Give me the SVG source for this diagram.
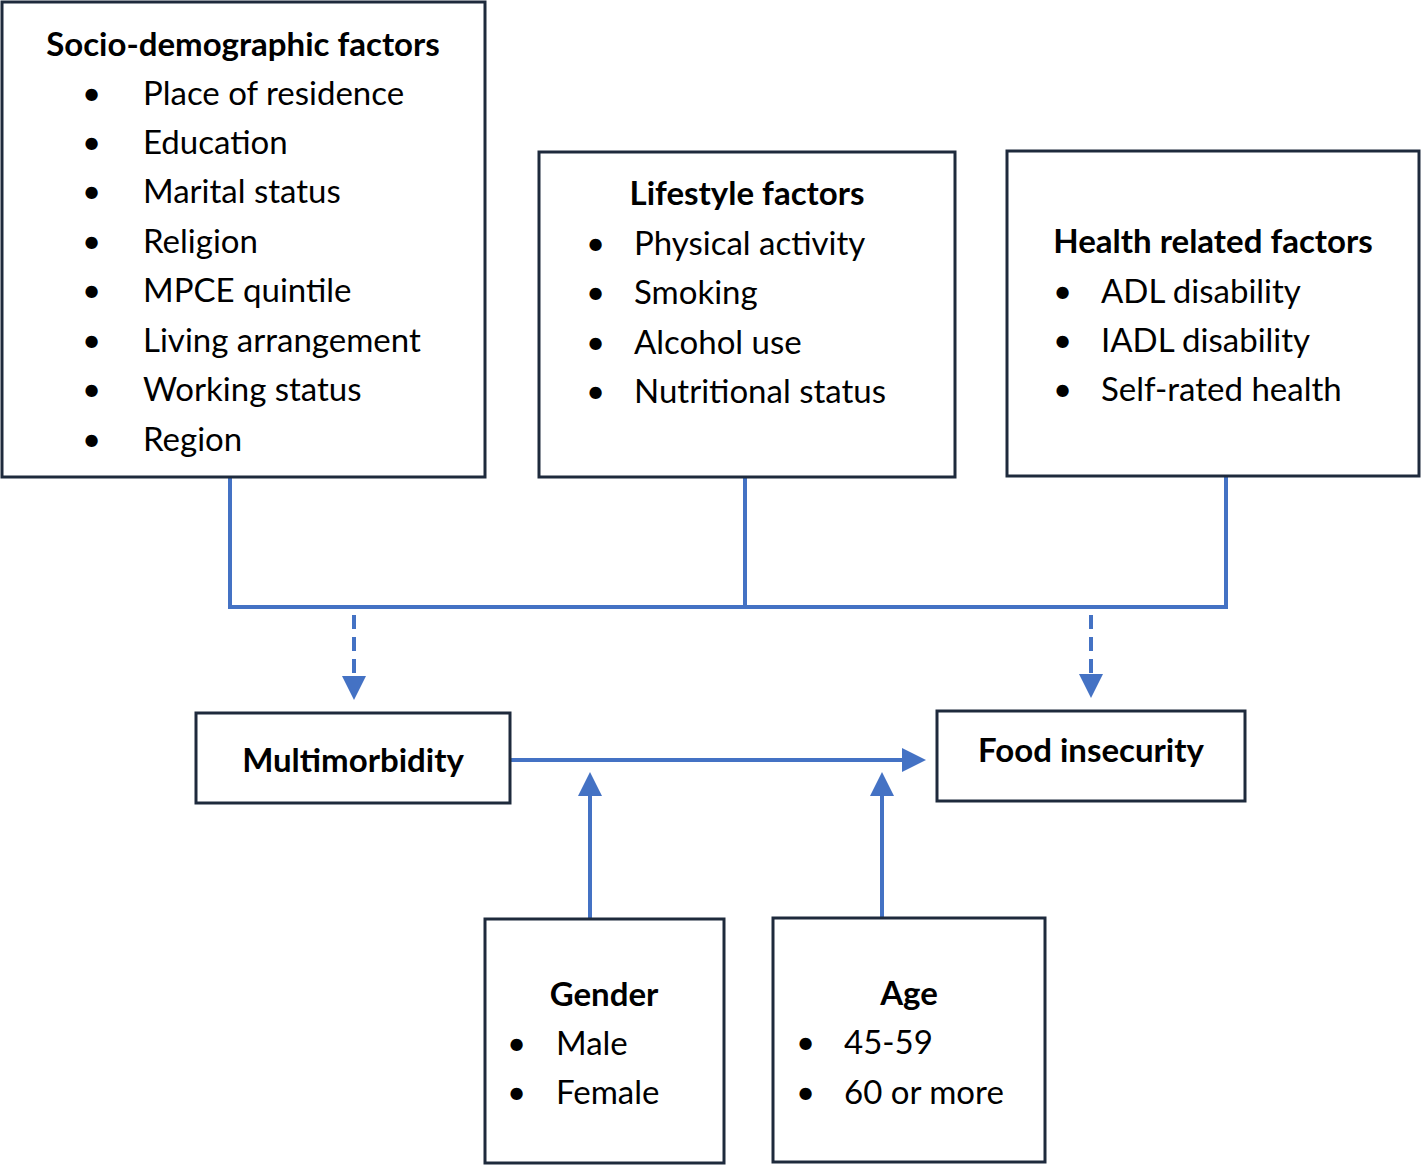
<svg xmlns="http://www.w3.org/2000/svg" width="1421" height="1165" viewBox="0 0 1421 1165">
<style>
.box{fill:#fff;stroke:#1e2a3c;stroke-width:3}
text{font-family:Lato,"Open Sans",sans-serif;font-size:33px;fill:#000}
.t{font-weight:bold;text-anchor:middle}
.c{stroke:#4472C4;stroke-width:4;fill:none}
.d{stroke-dasharray:14 8}
</style>
<defs><marker id="a" markerWidth="6" markerHeight="6" refX="5" refY="3" orient="auto" markerUnits="strokeWidth"><path d="M0,0L6,3L0,6z" fill="#4472C4"/></marker></defs>
<rect width="1421" height="1165" fill="#fff"/>
<g id="connectors">
<path class="c" d="M230,477V607M745,477V607M1226,477V607M228,607H1228"/>
<path class="c d" d="M354,615V696" marker-end="url(#a)"/>
<path class="c d" d="M1091,615V694" marker-end="url(#a)"/>
<path class="c" d="M510,760H922" marker-end="url(#a)"/>
<path class="c" d="M590,919V776" marker-end="url(#a)"/>
<path class="c" d="M882,918V776" marker-end="url(#a)"/>
</g>
<g id="socio"><rect class="box" x="2" y="2" width="483" height="475"/>
<text class="t" x="243" y="56">Socio-demographic factors</text>
<g><text x="82" y="105">•</text><text x="143" y="105">Place of residence</text>
<text x="82" y="154">•</text><text x="143" y="154">Education</text>
<text x="82" y="203">•</text><text x="143" y="203">Marital status</text>
<text x="82" y="253">•</text><text x="143" y="253">Religion</text>
<text x="82" y="302">•</text><text x="143" y="302">MPCE quintile</text>
<text x="82" y="352">•</text><text x="143" y="352">Living arrangement</text>
<text x="82" y="401">•</text><text x="143" y="401">Working status</text>
<text x="82" y="451">•</text><text x="143" y="451">Region</text></g></g>
<g id="lifestyle"><rect class="box" x="539" y="152" width="416" height="325"/>
<text class="t" x="747" y="205">Lifestyle factors</text>
<text x="586" y="255">•</text><text x="634" y="255">Physical activity</text>
<text x="586" y="304">•</text><text x="634" y="304">Smoking</text>
<text x="586" y="354">•</text><text x="634" y="354">Alcohol use</text>
<text x="586" y="403">•</text><text x="634" y="403">Nutritional status</text></g>
<g id="health"><rect class="box" x="1007" y="151" width="412" height="325"/>
<text class="t" x="1213" y="253">Health related factors</text>
<text x="1053" y="303">•</text><text x="1101" y="303">ADL disability</text>
<text x="1053" y="352">•</text><text x="1101" y="352">IADL disability</text>
<text x="1053" y="401">•</text><text x="1101" y="401">Self-rated health</text></g>
<g id="multimorbidity"><rect class="box" x="196" y="713" width="314" height="90"/>
<text class="t" x="353" y="772">Multimorbidity</text></g>
<g id="food"><rect class="box" x="937" y="711" width="308" height="90"/>
<text class="t" x="1091" y="762">Food insecurity</text></g>
<g id="gender"><rect class="box" x="485" y="919" width="239" height="244"/>
<text class="t" x="604" y="1006">Gender</text>
<text x="507" y="1055">•</text><text x="556" y="1055">Male</text>
<text x="507" y="1104">•</text><text x="556" y="1104">Female</text></g>
<g id="age"><rect class="box" x="773" y="918" width="272" height="244"/>
<text class="t" x="909" y="1005">Age</text>
<text x="796" y="1054">•</text><text x="844" y="1054">45-59</text>
<text x="796" y="1104">•</text><text x="844" y="1104">60 or more</text></g>
</svg>
